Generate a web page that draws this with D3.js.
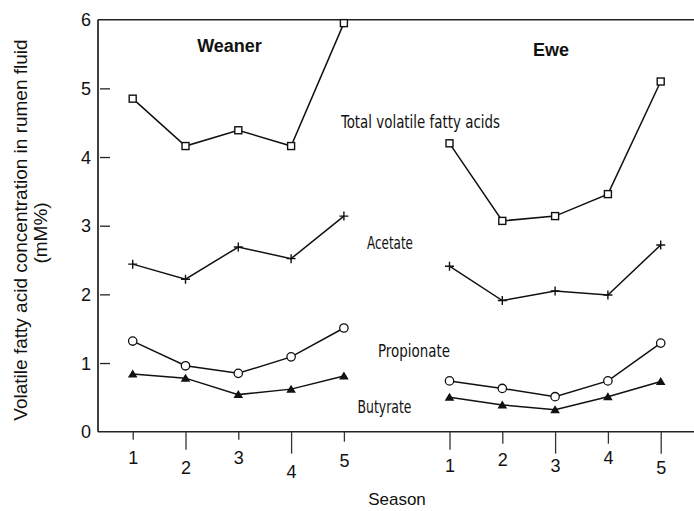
<!DOCTYPE html>
<html>
<head>
<meta charset="utf-8">
<script src="https://cdn.jsdelivr.net/npm/d3@7"></script>
<style>
	body { margin: 0; background: #fff; }
	svg { display: block; }
	text { fill: #111; }
</style>
</head>
<body>
<svg id="chart" width="694" height="511"></svg>
<script>
// Seasons for each group, and the slot each sits at along the shared x axis
var seasons = [1, 2, 3, 4, 5];
var weanerSlots = [1, 2, 3, 4, 5];
var eweSlots = [7, 8, 9, 10, 11];
var yTicks = [0, 1, 2, 3, 4, 5, 6];

// Weaner values (mM%)
var weanerTotal = [4.85, 4.16, 4.39, 4.16, 5.95];
var weanerAcetate = [2.44, 2.22, 2.69, 2.52, 3.14];
var weanerPropionate = [1.32, 0.96, 0.85, 1.09, 1.51];
var weanerButyrate = [0.84, 0.78, 0.54, 0.62, 0.81];

// Ewe values (mM%)
var eweTotal = [4.20, 3.07, 3.14, 3.46, 5.10];
var eweAcetate = [2.41, 1.91, 2.05, 1.99, 2.72];
var ewePropionate = [0.74, 0.63, 0.51, 0.74, 1.29];
var eweButyrate = [0.50, 0.39, 0.32, 0.51, 0.73];

var svg = d3.select('#chart');
var W = 694, H = 511;
// (window.top is reserved, hence the longer names)
var plotLeft = 98, plotTop = 19.7, plotBottom = 431.7;

var x = d3.scaleLinear().domain([1, 11]).range([132.7, 660.7]);
var y = d3.scaleLinear().domain([0, 6]).range([plotBottom, plotTop]);

// frame: left axis, top rule, bottom axis
svg.append('line').attr('x1', plotLeft).attr('x2', plotLeft).attr('y1', plotTop).attr('y2', plotBottom)
	.attr('stroke', '#111').attr('stroke-width', 1.6);
svg.append('line').attr('x1', plotLeft).attr('x2', W).attr('y1', plotTop).attr('y2', plotTop)
	.attr('stroke', '#222').attr('stroke-width', 1.4);
svg.append('line').attr('x1', plotLeft).attr('x2', W).attr('y1', plotBottom).attr('y2', plotBottom)
	.attr('stroke', '#222').attr('stroke-width', 1.4);

// y axis: short ticks pointing inward, numbers outside
var yAxis = svg.append('g').attr('transform', 'translate(' + plotLeft + ',0)')
	.call(d3.axisRight(y).tickValues(yTicks.slice(1, 6)).tickSize(10).tickFormat(''));
yAxis.select('.domain').remove();
yAxis.selectAll('.tick line').attr('x1', 2).attr('x2', 12).attr('stroke', '#222').attr('stroke-width', 1.3);

svg.append('g').selectAll('text').data(yTicks).enter().append('text')
	.attr('x', 91).attr('y', function(d){ return y(d); }).attr('dy', '0.36em')
	.attr('text-anchor', 'end')
	.style('font-family', 'Liberation Sans, Arial, sans-serif').style('font-size', '18px')
	.text(function(d){ return d; });

// x axis: the tick lengths and label drops are staggered like the original
var slots = weanerSlots.concat(eweSlots);
var tickLen = [8, 18, 8, 22, 10, 18, 12, 22, 12, 22];
var labelDrop = [26, 36, 26, 40, 29, 34, 28, 34, 26, 36];

var xAxis = svg.append('g').attr('transform', 'translate(0,' + plotBottom + ')')
	.call(d3.axisBottom(x).tickValues(slots).tickSize(10)
		.tickFormat(function(d, i){ return seasons[i % 5]; }));
xAxis.select('.domain').remove();
xAxis.selectAll('.tick line')
	.attr('y2', function(d, i){ return tickLen[i]; })
	.attr('stroke', '#333').attr('stroke-width', 1.3);
xAxis.selectAll('.tick text')
	.attr('y', function(d, i){ return labelDrop[i]; }).attr('dy', '0.36em')
	.attr('fill', '#111')
	.style('font-family', 'Liberation Sans, Arial, sans-serif').style('font-size', '18px');

// series
var series = [
	{ slots: weanerSlots, values: weanerTotal, mark: 'square' },
	{ slots: weanerSlots, values: weanerAcetate, mark: 'plus' },
	{ slots: weanerSlots, values: weanerPropionate, mark: 'circle' },
	{ slots: weanerSlots, values: weanerButyrate, mark: 'triangle' },
	{ slots: eweSlots, values: eweTotal, mark: 'square' },
	{ slots: eweSlots, values: eweAcetate, mark: 'plus' },
	{ slots: eweSlots, values: ewePropionate, mark: 'circle' },
	{ slots: eweSlots, values: eweButyrate, mark: 'triangle' }
];

var line = d3.line()
	.x(function(d){ return x(d[0]); })
	.y(function(d){ return y(d[1]); });

series.forEach(function(s){
	var pts = s.values.map(function(v, i){ return [s.slots[i], v]; });

	svg.append('path').datum(pts).attr('d', line)
		.attr('fill', 'none').attr('stroke', '#111').attr('stroke-width', 1.5);

	var g = svg.append('g').selectAll('g').data(pts).enter().append('g')
		.attr('transform', function(d){ return 'translate(' + x(d[0]) + ',' + y(d[1]) + ')'; });

	if (s.mark === 'square') {
		g.append('rect').attr('x', -3.5).attr('y', -3.5).attr('width', 7).attr('height', 7)
			.attr('fill', '#fff').attr('stroke', '#111').attr('stroke-width', 1.4);
	} else if (s.mark === 'circle') {
		g.append('circle').attr('r', 4.2)
			.attr('fill', '#fff').attr('stroke', '#111').attr('stroke-width', 1.3);
	} else if (s.mark === 'triangle') {
		g.append('path').attr('d', 'M0,-4.5L4.8,3.5L-4.8,3.5Z').attr('fill', '#111');
	} else {
		g.append('path').attr('d', 'M-4.5,0H4.5M0,-4.5V4.5')
			.attr('stroke', '#111').attr('stroke-width', 1.4);
	}
});

// group titles
var titles = [
	{ text: 'Weaner', cx: 229.5, cy: 46 },
	{ text: 'Ewe', cx: 551, cy: 50 }
];
svg.selectAll('.title').data(titles).enter().append('text')
	.attr('class', 'title')
	.attr('x', function(d){ return d.cx; }).attr('y', function(d){ return d.cy; })
	.attr('dy', '0.36em').attr('text-anchor', 'middle')
	.style('font-family', 'Liberation Sans, Arial, sans-serif')
	.style('font-size', '18px').style('font-weight', 'bold')
	.text(function(d){ return d.text; });

// series names, condensed lettering
var notes = [
	{ text: 'Total volatile fatty acids', cx: 420.5, cy: 122, w: 159 },
	{ text: 'Acetate', cx: 390, cy: 243, w: 46 },
	{ text: 'Propionate', cx: 414, cy: 351, w: 72 },
	{ text: 'Butyrate', cx: 384.5, cy: 406.5, w: 54 }
];
svg.selectAll('.note').data(notes).enter().append('text')
	.attr('class', 'note')
	.attr('x', function(d){ return d.cx - d.w / 2; }).attr('y', function(d){ return d.cy; })
	.attr('dy', '0.36em')
	.attr('textLength', function(d){ return d.w; })
	.attr('lengthAdjust', 'spacingAndGlyphs')
	.style('font-family', 'Liberation Sans Narrow, DejaVu Sans Condensed, Arial, sans-serif')
	.style('font-size', '17px')
	.text(function(d){ return d.text; });

// axis titles
var yTitle = svg.append('text')
	.attr('transform', 'translate(27,230) rotate(-90)')
	.attr('text-anchor', 'middle')
	.style('font-family', 'Liberation Sans, Arial, sans-serif').style('font-size', '19px');
yTitle.append('tspan').attr('x', 0).attr('y', 0).text('Volatile fatty acid concentration in rumen fluid');
yTitle.append('tspan').attr('x', -3).attr('y', 20).text('(mM%)');

svg.append('text')
	.attr('x', 397).attr('y', 499).attr('dy', '0.36em').attr('text-anchor', 'middle')
	.style('font-family', 'Liberation Sans, Arial, sans-serif').style('font-size', '17px')
	.text('Season');
</script>
</body>
</html>
